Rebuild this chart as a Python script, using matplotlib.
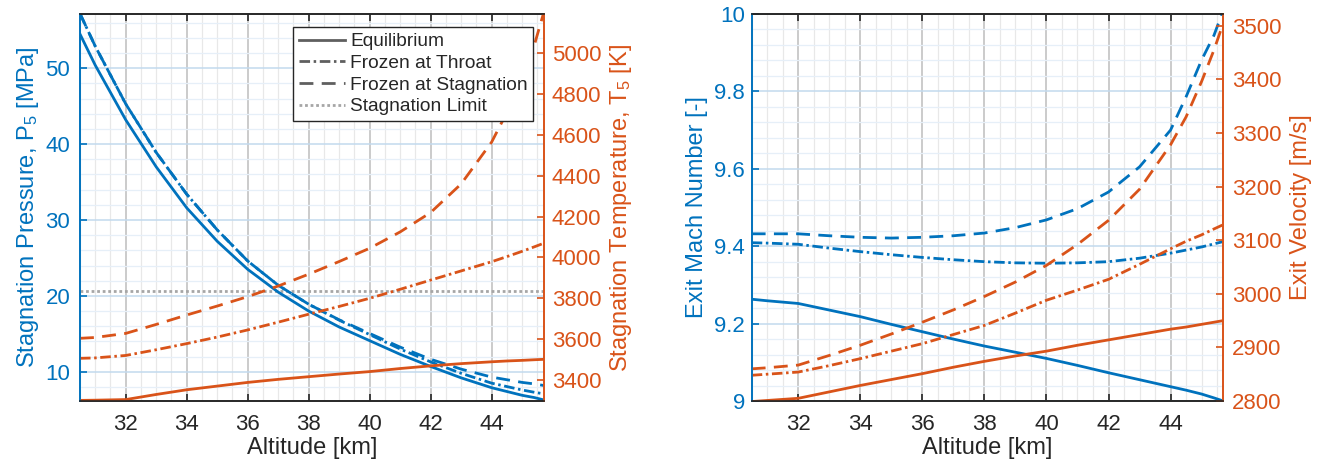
import matplotlib
matplotlib.use('Agg')
import matplotlib.pyplot as plt
from matplotlib.ticker import MultipleLocator, FuncFormatter
from matplotlib.lines import Line2D

plt.rcParams['font.family'] = ['Liberation Sans', 'DejaVu Sans']
plt.rcParams['mathtext.fontset'] = 'custom'
plt.rcParams['mathtext.rm'] = 'Liberation Sans'
plt.rcParams['mathtext.it'] = 'Liberation Sans:italic'

# ---------------- data ----------------
altitude = [30.5, 31, 32, 33, 34, 35, 36, 37, 38, 39, 40, 41, 42, 43, 44, 44.5, 45, 45.4, 45.7]

# Left panel: stagnation pressure [MPa]
p5_equilibrium = [54.5, 50.4, 43.2, 37.0, 31.6, 27.2, 23.5, 20.5, 18.0, 15.9, 14.1, 12.3, 10.7, 9.2, 7.9, 7.4, 6.9, 6.6, 6.3]
p5_frozen_throat = [57.2, 52.9, 45.3, 38.9, 33.4, 28.7, 24.6, 21.4, 18.9, 16.8, 14.9, 13.0, 11.3, 9.8, 8.5, 8.05, 7.6, 7.3, 7.1]
p5_frozen_stag = [57.2, 52.9, 45.3, 38.9, 33.4, 28.7, 24.6, 21.4, 18.9, 16.85, 15.05, 13.25, 11.65, 10.35, 9.3, 8.95, 8.6, 8.4, 8.2]
stagnation_limit = 20.6

# Left panel: stagnation temperature [K]
t5_equilibrium = [3300, 3301, 3304, 3329, 3352, 3370, 3388, 3403, 3416, 3429, 3441, 3456, 3469, 3480, 3489, 3493, 3496, 3499, 3501]
t5_frozen_throat = [3506, 3508, 3520, 3548, 3578, 3610, 3645, 3683, 3722, 3760, 3800, 3844, 3889, 3934, 3979, 4004, 4030, 4052, 4069]
t5_frozen_stag = [3604, 3608, 3628, 3672, 3718, 3762, 3808, 3860, 3918, 3980, 4045, 4125, 4220, 4360, 4565, 4710, 4880, 5040, 5195]

# Right panel: exit Mach number [-]
mach_equilibrium = [9.263, 9.259, 9.252, 9.235, 9.218, 9.198, 9.179, 9.160, 9.142, 9.126, 9.110, 9.092, 9.073, 9.055, 9.037, 9.028, 9.018, 9.008, 9.000]
mach_frozen_throat = [9.409, 9.408, 9.405, 9.395, 9.386, 9.378, 9.371, 9.365, 9.360, 9.357, 9.356, 9.357, 9.360, 9.369, 9.382, 9.390, 9.398, 9.406, 9.412]
mach_frozen_stag = [9.432, 9.432, 9.432, 9.427, 9.423, 9.421, 9.423, 9.427, 9.434, 9.448, 9.468, 9.497, 9.540, 9.605, 9.700, 9.786, 9.881, 9.945, 10.01]

# Right panel: exit velocity [m/s]
vel_equilibrium = [2799, 2801, 2805, 2817, 2829, 2840, 2851, 2863, 2874, 2884, 2893, 2904, 2914, 2924, 2934, 2938, 2943, 2947, 2950]
vel_frozen_throat = [2848, 2850, 2854, 2866, 2879, 2893, 2907, 2924, 2941, 2964, 2988, 3007, 3027, 3055, 3084, 3098, 3110, 3121, 3129]
vel_frozen_stag = [2860, 2862, 2867, 2885, 2904, 2925, 2947, 2970, 2995, 3022, 3053, 3092, 3137, 3195, 3278, 3330, 3396, 3455, 3505]

legend_labels = ['Equilibrium', 'Frozen at Throat', 'Frozen at Stagnation', 'Stagnation Limit']

# ---------------- style ----------------
BLUE = '#0072BD'
ORANGE = '#D95319'
TXT = '#262626'
LW = 2.0
DASH = (5.0, 3.0)
DASHDOT = (3.8, 1.3, 0.9, 1.3)
TICK_FS = 16
LABEL_FS = 17

W, H = 1321, 463
fig = plt.figure(figsize=(W / 100, H / 100), dpi=100)
ax1 = fig.add_axes([80 / W, 62 / H, 463.5 / W, 387 / H])
ax1r = ax1.twinx()
ax2 = fig.add_axes([751.7 / W, 62 / H, 471.6 / W, 387 / H])
ax2r = ax2.twinx()


def style(ax, axr, ylim, ylimr, ymaj, ymin, rmaj, fmt_l, fmt_r, lpad, rpad):
    ax.set_xlim(altitude[0], altitude[-1])
    ax.set_ylim(*ylim)
    axr.set_ylim(*ylimr)
    ax.xaxis.set_major_locator(MultipleLocator(2))
    ax.xaxis.set_minor_locator(MultipleLocator(0.5))
    ax.yaxis.set_major_locator(MultipleLocator(ymaj))
    ax.yaxis.set_minor_locator(MultipleLocator(ymin))
    axr.yaxis.set_major_locator(MultipleLocator(rmaj))
    ax.yaxis.set_major_formatter(FuncFormatter(fmt_l))
    axr.yaxis.set_major_formatter(FuncFormatter(fmt_r))
    ax.set_axisbelow(True)
    ax.grid(which='major', axis='x', color='#bdbdbd', lw=1.1)
    ax.grid(which='minor', axis='x', color='#e8e8e8', lw=0.9)
    ax.grid(which='major', axis='y', color='#c2daee', lw=1.1)
    ax.grid(which='minor', axis='y', color='#e6eff8', lw=0.9)
    for a in (ax, axr):
        a.spines['left'].set_color(BLUE)
        a.spines['right'].set_color(ORANGE)
        a.spines['top'].set_color(TXT)
        a.spines['bottom'].set_color(TXT)
        for s in a.spines.values():
            s.set_linewidth(1.2)
    ax.tick_params(axis='x', which='major', direction='in', length=5, width=1.2,
                   top=True, colors=TXT, labelsize=TICK_FS, pad=9)
    ax.tick_params(axis='both', which='minor', length=0)
    ax.tick_params(axis='y', which='major', direction='in', length=5, width=1.2,
                   colors=BLUE, labelsize=TICK_FS, pad=lpad)
    axr.tick_params(axis='y', which='major', direction='in', length=5, width=1.2,
                    colors=ORANGE, labelsize=TICK_FS, pad=rpad)
    axr.tick_params(axis='y', which='minor', length=0)
    ax.set_xlabel('Altitude [km]', fontsize=LABEL_FS, color=TXT, labelpad=2)


def plot_three(ax, ys, color):
    ax.plot(altitude, ys[0], color=color, lw=LW, ls='-')
    ax.plot(altitude, ys[1], color=color, lw=LW, ls=(0, DASHDOT), dash_capstyle='butt')
    ax.plot(altitude, ys[2], color=color, lw=LW, ls=(0, DASH), dash_capstyle='butt')


# ---- left panel ----
ax1.axhline(stagnation_limit, color='#a6a6a6', lw=2.0, ls=(0, (1, 1)))
plot_three(ax1, [p5_equilibrium, p5_frozen_throat, p5_frozen_stag], BLUE)
plot_three(ax1r, [t5_equilibrium, t5_frozen_throat, t5_frozen_stag], ORANGE)
style(ax1, ax1r, (6.15, 57.15), (3297, 5192), 10, 2, 200,
      lambda v, p: '%d' % round(v), lambda v, p: '%d' % round(v), 7, 6)
ax1.set_ylabel(r'Stagnation Pressure, P$_{5}$ [MPa]', fontsize=LABEL_FS, color=BLUE, labelpad=3)
ax1r.set_ylabel(r'Stagnation Temperature, T$_{5}$ [K]', fontsize=LABEL_FS, color=ORANGE, labelpad=5)

handles = [
    Line2D([], [], color='#5f5f5f', lw=LW, ls='-'),
    Line2D([], [], color='#5f5f5f', lw=LW, ls=(0, DASHDOT), dash_capstyle='butt'),
    Line2D([], [], color='#5f5f5f', lw=LW, ls=(0, DASH), dash_capstyle='butt'),
    Line2D([], [], color='#a6a6a6', lw=LW, ls=(0, (1, 1))),
]
leg = ax1r.legend(handles, legend_labels, loc='upper right', bbox_to_anchor=(0.978, 0.966),
                  bbox_transform=ax1r.transAxes, borderaxespad=0, fontsize=13.8,
                  handlelength=2.4, handletextpad=0.25, labelspacing=0.22, borderpad=0.3,
                  fancybox=False, framealpha=1, edgecolor=TXT)
leg.get_frame().set_linewidth(1.0)
for t in leg.get_texts():
    t.set_color(TXT)

# ---- right panel ----
plot_three(ax2, [mach_equilibrium, mach_frozen_throat, mach_frozen_stag], BLUE)
plot_three(ax2r, [vel_equilibrium, vel_frozen_throat, vel_frozen_stag], ORANGE)
style(ax2, ax2r, (9.0, 10.0), (2800, 3522), 0.2, 0.04, 100,
      lambda v, p: '%g' % round(v, 2), lambda v, p: '%d' % round(v), 5, 6)
ax2.set_ylabel('Exit Mach Number [-]', fontsize=LABEL_FS, color=BLUE, labelpad=4)
ax2r.set_ylabel('Exit Velocity [m/s]', fontsize=LABEL_FS, color=ORANGE, labelpad=6)

fig.savefig('out.png', dpi=100, facecolor='white')
